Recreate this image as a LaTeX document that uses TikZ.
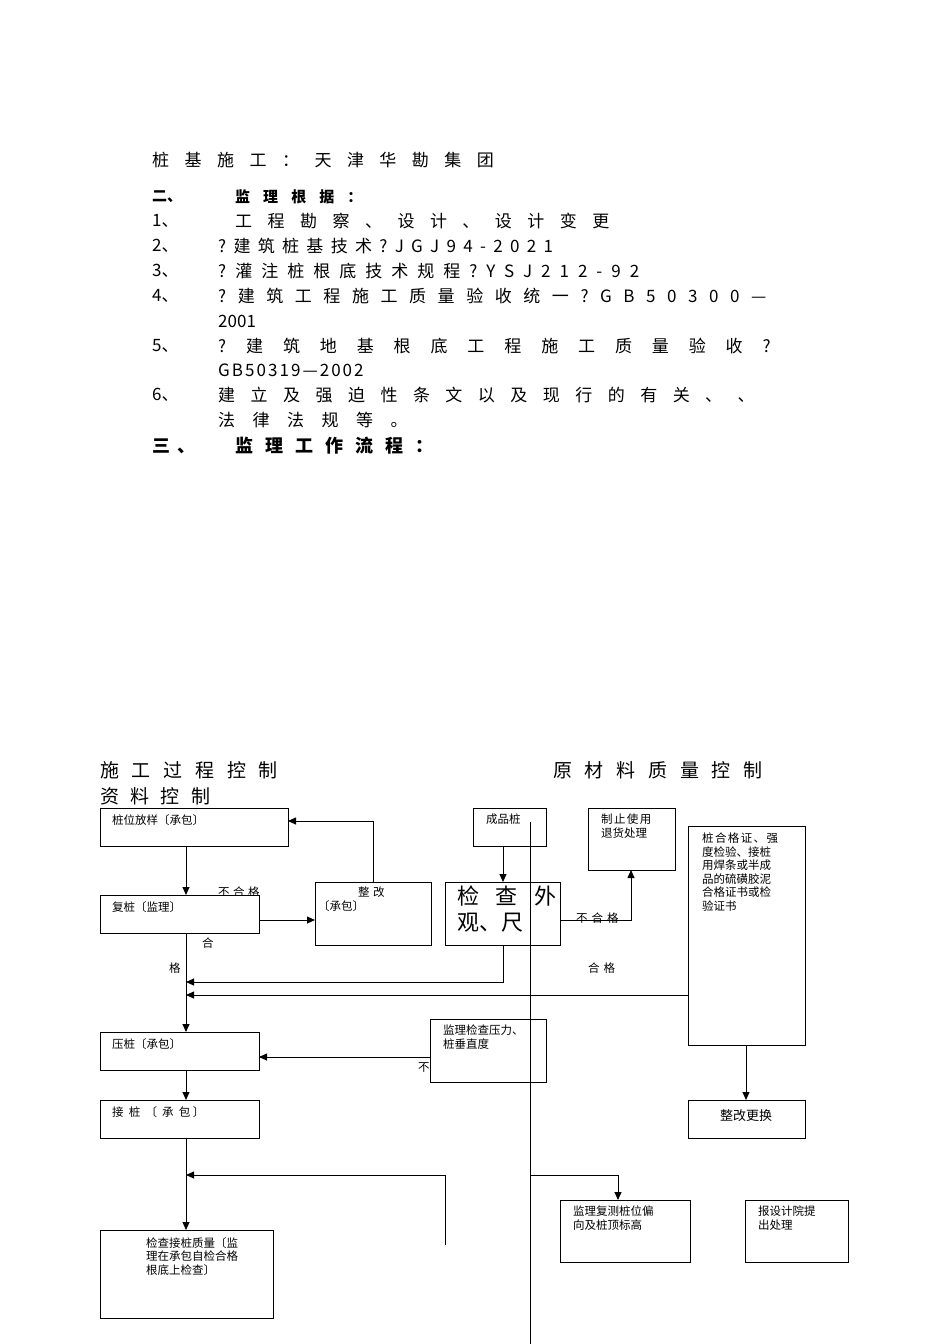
\documentclass[tikz,border=0pt]{standalone}
\usepackage{fontspec}
\setmainfont{Noto Sans CJK SC}
\usetikzlibrary{arrows.meta}
\newcommand{\ls}[1]{\addfontfeature{LetterSpace=#1}}
\begin{document}
\begin{tikzpicture}[x=1pt,y=-1pt,
  bx/.style={draw,line width=0.9pt,fill=white},
  ar/.style={line width=0.9pt,-{Triangle[length=8pt,width=7pt]}},
  ln/.style={line width=0.9pt},
  tt/.style={anchor=west,inner sep=0pt,font=\fontsize{17}{17}\selectfont},
  sm/.style={anchor=north west,inner sep=0pt,align=left,font=\fontsize{11.5}{13.5}\selectfont},
  hd/.style={anchor=west,inner sep=0pt,font=\fontsize{19}{19}\selectfont}]
\useasboundingbox (0,0) rectangle (950,1344);
% top text
\node[tt] (t0) at (152,160) {\ls{91}桩基施工：天津华勘集团};
\node[tt,font=\bfseries\fontsize{15}{15}\selectfont] (t1) at (152,197) {二、};
\node[tt,font=\bfseries\fontsize{15}{15}\selectfont] (t1b) at (235,197) {\ls{87}监理根据：};
\node[tt] (n1) at (152,221) {1、}; \node[tt] (l1) at (235,221) {\ls{91}工程勘察、设计、设计变更};
\node[tt] (n2) at (152,246) {2、}; \node[tt] (l2) at (218,246) {\ls{43}?建筑桩基技术?JGJ94-2021};
\node[tt] (n3) at (152,271) {3、}; \node[tt] (l3) at (218,271) {\ls{53}?灌注桩根底技术规程?YSJ212-92};
\node[tt] (n4) at (152,296) {4、}; \node[tt] (l4) at (218,296) {\ls{68}?建筑工程施工质量验收统一?GB50300—};
\node[tt] (l4b) at (218,321) {2001};
\node[tt] (n5) at (152,346) {5、}; \node[tt] (l5) at (218,346) {\ls{117}?建筑地基根底工程施工质量验收?};
\node[tt] (l5b) at (218,370) {\ls{12}GB50319—2002};
\node[tt] (n6) at (152,395) {6、}; \node[tt] (l6) at (218,395) {\ls{91}建立及强迫性条文以及现行的有关、、};
\node[tt] (l6b) at (218,420) {\ls{103}法律法规等。};
\node[tt,font=\bfseries\fontsize{18}{18}\selectfont] (t3) at (152,446) {\ls{40}三、};
\node[tt,font=\bfseries\fontsize{18}{18}\selectfont] (t3b) at (235,446) {\ls{67}监理工作流程：};
% headings
\node[hd] (h1) at (100,770) {\ls{67}施工过程控制};
\node[hd] (h2) at (100,796) {\ls{60}资料控制};
\node[hd] (h3) at (553,770) {\ls{67}原材料质量控制};
% labels behind boxes
\node[sm] (lb1) at (218,887) {\ls{30}不合格};
\node[sm] (lb5) at (418,1062) {不};
% boxes
\draw[bx] (100,808) rectangle (288,846); \node[sm] (A) at (112,814) {桩位放样〔承包〕};
\draw[bx] (100,895) rectangle (259,933); \node[sm] (B) at (112,901) {复桩〔监理〕};
\draw[bx] (315,882) rectangle (431,945); \node[sm] (C) at (318,887) {\hspace*{40pt}\ls{30}整改\\〔承包〕};
\draw[bx] (473,808) rectangle (546,846); \node[sm] (D) at (486,814) {成品桩};
\draw[bx] (445,882) rectangle (560,945);
\begin{scope}\clip (445,882) rectangle (560,945);
\node[anchor=north west,inner sep=0pt,align=left,font=\fontsize{22}{26}\selectfont] (E) at (457,886) {\ls{75}检查外\\观、尺};
\end{scope}
\draw[bx] (588,808) rectangle (675,870); \node[sm] (F) at (601,814) {\ls{12}制止使用\\退货处理};
\draw[bx] (688,826) rectangle (805,1045); \node[sm] (G) at (702,833) {\ls{12}桩合格证、强\\度检验、接桩\\用焊条或半成\\品的硫磺胶泥\\合格证书或检\\验证书};
\draw[bx] (100,1032) rectangle (259,1070); \node[sm] (H) at (112,1038) {压桩〔承包〕};
\draw[bx] (430,1019) rectangle (546,1082); \node[sm] (I) at (443,1025) {监理检查压力、\\桩垂直度};
\draw[bx] (100,1100) rectangle (259,1138); \node[sm] (J) at (112,1106) {接\ \ 桩\ \ 〔\ \ 承\ \ 包\ 〕};
\draw[bx] (688,1100) rectangle (805,1138); \node[anchor=center,inner sep=0pt,font=\fontsize{13}{13}\selectfont] (K) at (746,1116) {整改更换};
\draw[bx] (560,1200) rectangle (690,1262); \node[sm] (L) at (573,1206) {监理复测桩位偏\\向及桩顶标高};
\draw[bx] (745,1200) rectangle (848,1262); \node[sm] (M) at (758,1206) {报设计院提\\出处理};
\draw[bx] (100,1230) rectangle (273,1318); \node[sm] (N) at (146,1237) {检查接桩质量〔监\\理在承包自检合格\\根底上检查〕};
% other labels
\node[sm] (lb2) at (202,938) {合};
\node[sm] (lb3) at (169,963) {格};
\node[sm] (lb4) at (576,913) {\ls{35}不合格};
\node[sm] (lb6) at (588,963) {\ls{35}合格};
% connectors
\coordinate (v1) at (530,822); \coordinate (v2) at (530,1344);
\draw[ln] (v1) -- (v2);
\draw[ar] (186,846) -- (186,895);
\draw[ar] (259,920) -- (315,920);
\draw[ar] (373,882) -- (373,821) -- (288,821);
\draw[ar] (503,846) -- (503,882);
\draw[ar] (503,945) -- (503,982) -- (186,982);
\draw[ar] (688,995) -- (186,995);
\draw[ar] (186,933) -- (186,1032);
\draw[ar] (560,920) -- (631,920) -- (631,870);
\draw[ar] (430,1057) -- (259,1057);
\draw[ar] (186,1070) -- (186,1100);
\draw[ar] (186,1138) -- (186,1230);
\draw[ar] (445,1245) -- (445,1175) -- (186,1175);
\draw[ar] (746,1045) -- (746,1100);
\draw[ar] (530,1175) -- (618,1175) -- (618,1200);
\end{tikzpicture}
\end{document}
